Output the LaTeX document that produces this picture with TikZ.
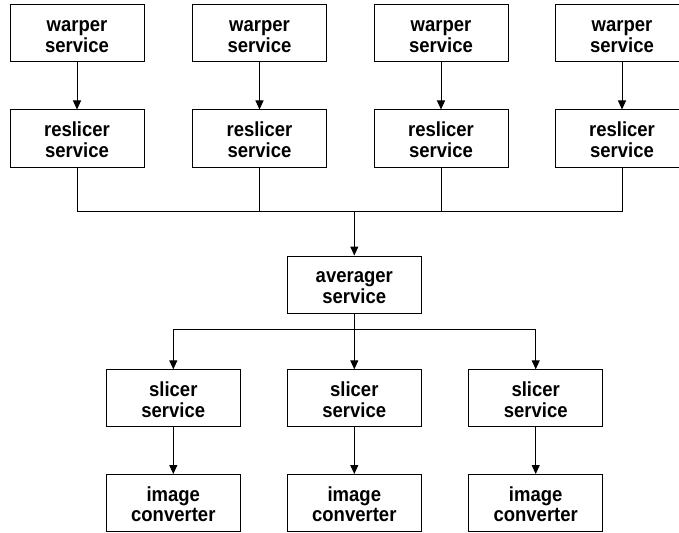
\documentclass[tikz,border=0pt]{standalone}
\usepackage{fontspec}
\setmainfont{Liberation Sans}
\usetikzlibrary{arrows.meta}
\newcommand{\bxline}[1]{\smash{\scalebox{1}[1.1]{#1}}}
\newcommand{\twol}[2]{\rule{0pt}{17pt}\bxline{#1}\\\bxline{#2}}
\begin{document}
\begin{tikzpicture}[x=1pt,y=-1pt,
  box/.style={draw=black,line width=1pt,minimum width=134pt,minimum height=57pt,inner sep=0pt,align=center,
    font=\fontsize{18.5}{20.5}\selectfont\bfseries},
  conn/.style={draw=black,line width=1pt},
  arr/.style={conn,-{Triangle[length=9pt,width=8pt]}}]
\useasboundingbox (0,0) rectangle (679,532);
\clip (0,0) rectangle (679,532);
% top rows
\node[box] (w1) at (77,33.5) {\twol{warper}{service}};
\node[box] (w2) at (259.5,33.5) {\twol{warper}{service}};
\node[box] (w3) at (441,33.5) {\twol{warper}{service}};
\node[box] (w4) at (622,33.5) {\twol{warper}{service}};
\node[box] (r1) at (77,138.5) {\twol{reslicer}{service}};
\node[box] (r2) at (259.5,138.5) {\twol{reslicer}{service}};
\node[box] (r3) at (441,138.5) {\twol{reslicer}{service}};
\node[box] (r4) at (622,138.5) {\twol{reslicer}{service}};
\foreach \i in {1,2,3,4} {\draw[arr] (w\i) -- (r\i);}
% averager
\node[box] (avg) at (354.3,284.5) {\twol{averager}{service}};
\coordinate (bus) at (354.3,211);
\draw[conn] (r1.south) |- (bus);
\draw[conn] (r4.south) |- (bus);
\draw[conn] (r2.south) -- (r2.south |- bus);
\draw[conn] (r3.south) -- (r3.south |- bus);
\draw[arr] (bus) -- (avg.north);
% slicers
\node[box] (s1) at (173.3,398.3) {\twol{slicer}{service}};
\node[box] (s2) at (354.3,398.3) {\twol{slicer}{service}};
\node[box] (s3) at (535.7,398.3) {\twol{slicer}{service}};
\node[box] (c1) at (173.3,503) {\twol{image}{converter}};
\node[box] (c2) at (354.3,503) {\twol{image}{converter}};
\node[box] (c3) at (535.7,503) {\twol{image}{converter}};
\coordinate (br) at (354.3,329);
\draw[arr] (avg.south) -- (s2.north);
\draw[arr] (br) -| (s1.north);
\draw[arr] (br) -| (s3.north);
\foreach \i in {1,2,3} {\draw[arr] (s\i) -- (c\i);}
\end{tikzpicture}
\end{document}
